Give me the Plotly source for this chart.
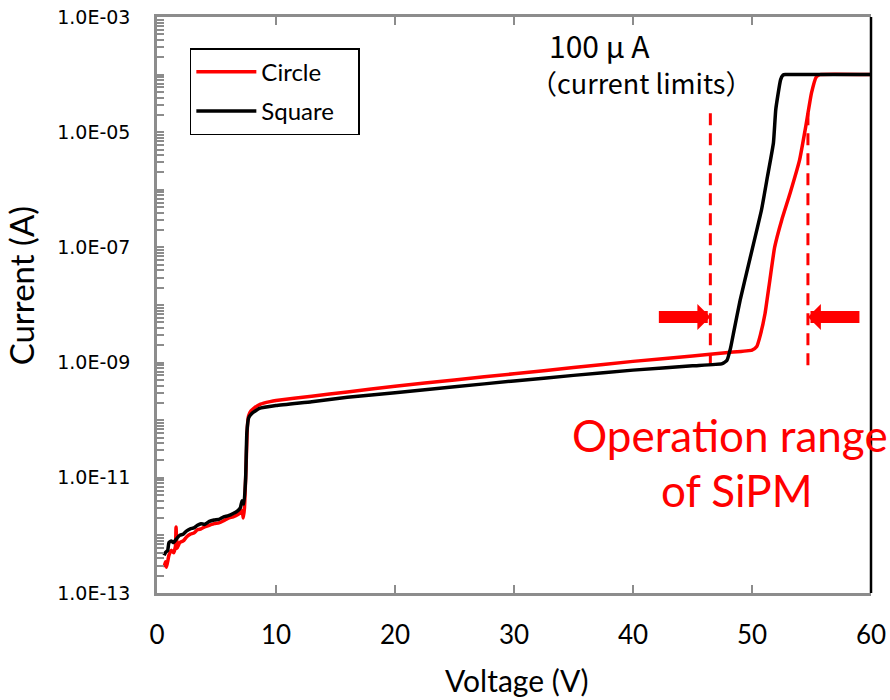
import plotly.graph_objects as go

# I-V curves of the two SiPM devices (voltage in V, current in A)
circle_v = [0.6, 0.7, 0.8, 1.0, 1.2, 1.4, 1.55, 1.6, 1.7, 1.9, 2.2, 2.5, 2.8, 3.1, 3.4,
            3.7, 4.0, 4.4, 4.8, 5.2, 5.6, 6.0, 6.4, 6.8, 7.0, 7.15, 7.25, 7.35, 7.5,
            7.6, 7.7, 7.9, 8.2, 8.7, 9.5, 10, 13, 16, 20, 25, 30, 35, 40, 45, 48,
            50, 50.4, 50.7, 51.1, 51.5, 51.9, 52.5, 53.2, 54.0, 54.5, 55.0, 55.4,
            55.7, 60]
circle_i = [2.8e-13, 3.5e-13, 2.8e-13, 4.5e-13, 5.5e-13, 5.0e-13, 6.5e-13, 1.4e-12,
            6.0e-13, 7.5e-13, 8.0e-13, 9.5e-13, 1.05e-12, 1.1e-12, 1.25e-12, 1.3e-12,
            1.4e-12, 1.5e-12, 1.6e-12, 1.65e-12, 1.8e-12, 2.0e-12, 2.1e-12, 2.3e-12,
            2.5e-12, 2.7e-12, 2.0e-12, 3.0e-12, 2.0e-11, 8.0e-11, 1.2e-10, 1.45e-10,
            1.65e-10, 1.9e-10, 2.1e-10, 2.2e-10, 2.6e-10, 3.1e-10, 3.9e-10, 5.0e-10,
            6.4e-10, 8.2e-10, 1.05e-9, 1.3e-9, 1.5e-9, 1.65e-9, 1.9e-9, 3.0e-9,
            7.2e-9, 2.7e-8, 1.0e-7, 3.0e-7, 8.7e-7, 3.3e-6, 1.2e-5, 4.8e-5, 9.1e-5,
            1.0e-4, 1.0e-4]

square_v = [0.6, 0.7, 0.9, 1.0, 1.2, 1.4, 1.6, 1.9, 2.2, 2.5, 2.8, 3.1, 3.4, 3.7, 4.0,
            4.4, 4.8, 5.2, 5.6, 6.0, 6.4, 6.8, 7.0, 7.15, 7.3, 7.45, 7.55, 7.7, 7.95,
            8.6, 10, 13, 16, 20, 25, 30, 35, 40, 45, 47.5, 47.9, 48.2, 48.5, 49.0,
            49.8, 50.8, 51.3, 51.8, 52.0, 52.4, 52.6, 52.8, 60]
square_i = [4.5e-13, 5.0e-13, 5.5e-13, 7.5e-13, 8.0e-13, 7.5e-13, 8.5e-13, 1.0e-12,
            1.05e-12, 1.2e-12, 1.3e-12, 1.35e-12, 1.5e-12, 1.6e-12, 1.55e-12, 1.75e-12,
            1.85e-12, 1.9e-12, 2.1e-12, 2.2e-12, 2.4e-12, 2.7e-12, 3.0e-12, 4.0e-12,
            3.5e-12, 1.0e-11, 6.0e-11, 1.1e-10, 1.3e-10, 1.6e-10, 1.8e-10, 2.1e-10,
            2.5e-10, 3.0e-10, 3.8e-10, 4.8e-10, 6.0e-10, 7.4e-10, 8.8e-10, 9.6e-10,
            1.1e-9, 1.8e-9, 3.7e-9, 1.2e-8, 6.0e-8, 4.5e-7, 1.7e-6, 6.5e-6, 2.5e-5,
            8.1e-5, 9.8e-5, 1.0e-4, 1.0e-4]

# operating window markers (voltage) and their vertical extent (current)
range_v = [46.5, 54.7]
range_top_i = [2.9e-5, 2.2e-5]
range_bottom_i = 9.0e-10
arrow_i = 6.2e-9

y_tickvals = [1e-13, 1e-11, 1e-9, 1e-7, 1e-5, 1e-3]
y_ticktext = ["1.0E-13", "1.0E-11", "1.0E-09", "1.0E-07", "1.0E-05", "1.0E-03"]
x_tickvals = [0, 10, 20, 30, 40, 50, 60]

AXIS_GRAY = "#8c8c8c"
RED = "#ff0000"
PAD = "\u00a0" * 3  # extra room on the right side of the legend box

fig = go.Figure()

for v, top in zip(range_v, range_top_i):
    fig.add_trace(go.Scatter(
        x=[v, v], y=[range_bottom_i, top], mode="lines",
        line=dict(color=RED, width=3, dash="12px,8px"),
        showlegend=False, hoverinfo="skip"))

fig.add_trace(go.Scatter(
    x=circle_v, y=circle_i, mode="lines", name="Circle" + PAD,
    line=dict(color=RED, width=3.5, shape="spline", smoothing=0.4),
    legendgroup="c"))
fig.add_trace(go.Scatter(
    x=square_v, y=square_i, mode="lines", name="Square" + PAD,
    line=dict(color="#000000", width=3.5, shape="spline", smoothing=0.4),
    legendgroup="s"))

fig.update_layout(
    width=890, height=700,
    margin=dict(l=157, r=19, t=17, b=107, autoexpand=False),
    paper_bgcolor="white", plot_bgcolor="white",
    font=dict(family="Lato", color="#000000"),
    legend=dict(
        x=0.046, y=0.946, xanchor="left", yanchor="top",
        bordercolor="#000000", borderwidth=1.5, bgcolor="white",
        font=dict(family="Lato", size=24),
        traceorder="grouped", tracegroupgap=5, itemwidth=60),
    xaxis=dict(
        range=[0, 60], tickvals=x_tickvals, showgrid=False, zeroline=False,
        automargin=False,
        showline=True, linecolor=AXIS_GRAY, linewidth=2.5, mirror="ticks",
        ticks="inside", ticklen=8, tickcolor=AXIS_GRAY, tickwidth=1.5,
        ticklabelstandoff=17,
        tickfont=dict(family="Lato", size=26)),
    yaxis=dict(
        type="log", range=[-13, -3], tickvals=y_tickvals, ticktext=y_ticktext,
        showgrid=False, zeroline=False, automargin=False,
        showline=True, linecolor=AXIS_GRAY, linewidth=2.5,
        ticks="inside", ticklen=7, tickcolor=AXIS_GRAY, tickwidth=1.5,
        minor=dict(ticks="inside", ticklen=7, tickcolor=AXIS_GRAY, tickwidth=1.5,
                   dtick="D1", showgrid=False),
        ticklabelstandoff=20,
        tickfont=dict(family="DejaVu Sans", size=19)),
    shapes=[dict(type="line", xref="paper", yref="paper", x0=1, x1=1, y0=0, y1=1,
                 line=dict(color="#000000", width=2.5))],
)

annotations = [
    dict(text="Voltage (V)", xref="paper", yref="paper", x=0.503, y=-0.151,
         xanchor="center", yanchor="middle", showarrow=False,
         font=dict(family="Lato", size=30)),
    dict(text="Current (A)", xref="paper", yref="paper", x=-0.19, y=0.533,
         xanchor="center", yanchor="middle", textangle=-90, showarrow=False,
         font=dict(family="Lato", size=33)),
    dict(text="100 μ A", xref="paper", yref="paper", x=0.546, y=0.951,
         xanchor="left", yanchor="middle", showarrow=False,
         font=dict(family="Noto Sans CJK JP", size=30)),
    dict(text="（current limits）", xref="paper", yref="paper", x=0.52, y=0.887,
         xanchor="left", yanchor="middle", showarrow=False,
         font=dict(family="Noto Sans CJK JP", size=27)),
    dict(text="Operation range", xref="paper", yref="paper", x=0.8025, y=0.274,
         xanchor="center", yanchor="middle", showarrow=False,
         font=dict(family="Lato", size=44, color=RED)),
    dict(text="of SiPM", xref="paper", yref="paper", x=0.812, y=0.178,
         xanchor="center", yanchor="middle", showarrow=False,
         font=dict(family="Lato", size=44, color=RED)),
]
# thick arrows pointing at the window edges
for v, dx in zip(range_v, [-53, 53]):
    annotations.append(dict(
        x=v, y=-8.2076, xref="x", yref="y", ax=dx, ay=0,
        axref="pixel", ayref="pixel", text="", showarrow=True,
        arrowhead=1, arrowwidth=12, arrowsize=0.36, arrowcolor=RED))
fig.update_layout(annotations=annotations)

fig.write_html("out.html")
